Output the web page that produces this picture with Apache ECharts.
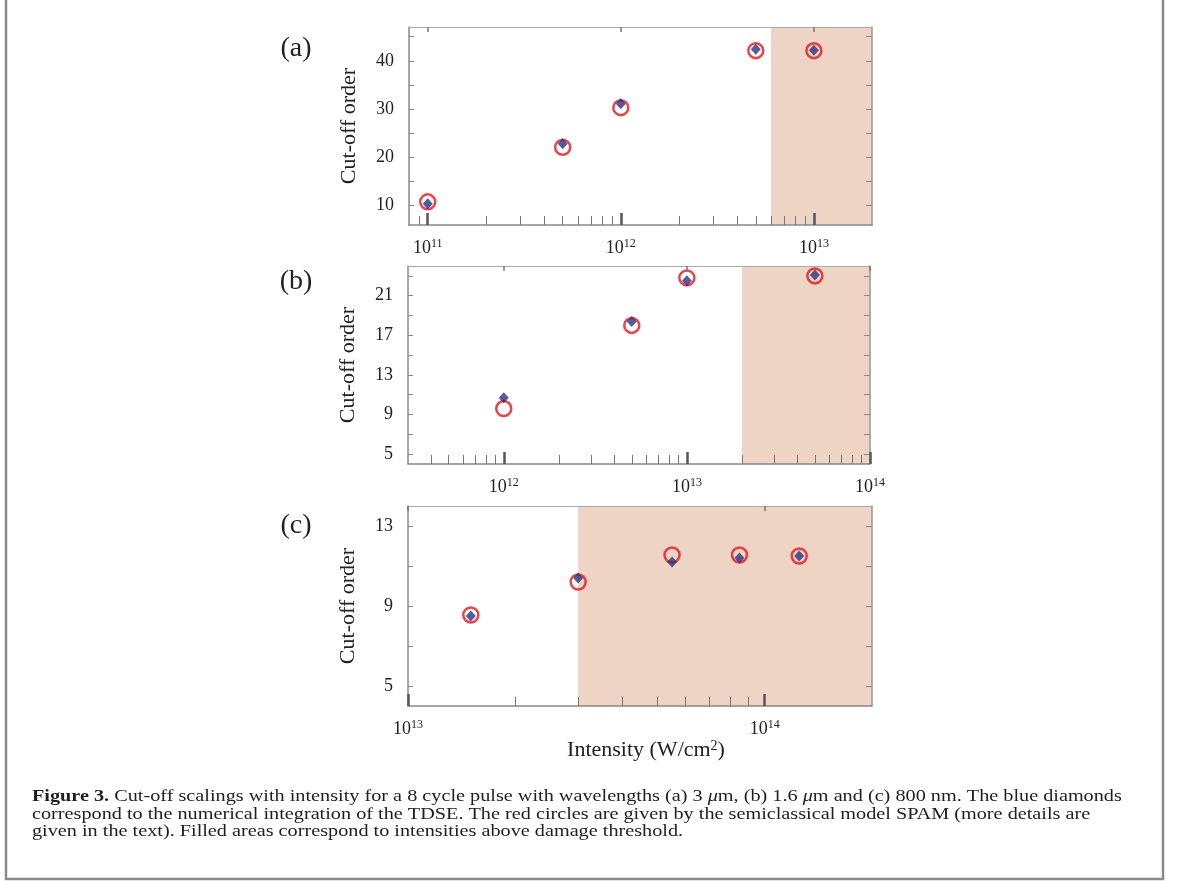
<!DOCTYPE html>
<html>
<head>
<meta charset="utf-8">
<title>Figure 3</title>
<script src="https://cdn.jsdelivr.net/npm/echarts@6/dist/echarts.min.js"></script>
<style>
html, body { margin: 0; padding: 0; background: #fff; }
#chart { width: 1179px; height: 881px; }
</style>
</head>
<body>
<div id="chart"></div>
<script>
// (a) 3 um
var intensityA = [1e11, 5e11, 1e12, 5e12, 1e13];
var tdseA = [10.4, 22.8, 31.1, 42.4, 42.2];
var spamA = [10.8, 22.1, 30.3, 42.1, 42.1];
var damageA = 6e12;
var xRangeA = [8e10, 2e13];
var yRangeA = [6, 47];
var decadesA = [1e11, 1e12, 1e13];
var yTicksA = [10, 15, 20, 25, 30, 35, 40, 45];
var yLabelsA = [10, 20, 30, 40];

// (b) 1.6 um
var intensityB = [1e12, 5e12, 1e13, 5e13];
var tdseB = [10.7, 18.4, 22.5, 23.1];
var spamB = [9.6, 18.0, 22.8, 23.0];
var damageB = 2e13;
var xRangeB = [3e11, 1e14];
var yRangeB = [4, 24];
var decadesB = [1e12, 1e13, 1e14];
var yTicksB = [5, 7, 9, 11, 13, 15, 17, 19, 21, 23];
var yLabelsB = [5, 9, 13, 17, 21];

// (c) 800 nm
var intensityC = [1.5e13, 3e13, 5.5e13, 8.5e13, 1.25e14];
var tdseC = [8.5, 10.4, 11.2, 11.4, 11.5];
var spamC = [8.55, 10.2, 11.55, 11.55, 11.5];
var damageC = 3e13;
var xRangeC = [1e13, 2e14];
var yRangeC = [4, 14];
var decadesC = [1e13, 1e14];
var yTicksC = [5, 7, 9, 11, 13];
var yLabelsC = [5, 9, 13];

var FONT = 'Liberation Serif';
var lg = Math.log10;

// 2..9 x decade, strictly inside the axis range
function minorTicks(range) {
    var out = [];
    var d0 = Math.floor(lg(range[0]));
    var d1 = Math.ceil(lg(range[1]));
    for (var d = d0; d < d1; d++) {
        for (var k = 2; k < 10; k++) {
            var v = k * Math.pow(10, d);
            if (v > range[0] * 1.001 && v < range[1] * 0.999) out.push(lg(v));
        }
    }
    return out;
}

var supRich = {
    b: {fontFamily: FONT, fontSize: 18, lineHeight: 20, color: '#222'},
    s: {fontFamily: FONT, fontSize: 12, lineHeight: 12, color: '#222', verticalAlign: 'top'}
};

var panels = [
    {x: intensityA, tdse: tdseA, spam: spamA, damage: damageA, xr: xRangeA, yr: yRangeA,
     dec: decadesA, yt: yTicksA, yl: yLabelsA, grid: {left: 409, top: 27, width: 463, height: 198}},
    {x: intensityB, tdse: tdseB, spam: spamB, damage: damageB, xr: xRangeB, yr: yRangeB,
     dec: decadesB, yt: yTicksB, yl: yLabelsB, grid: {left: 408, top: 266, width: 462, height: 198}},
    {x: intensityC, tdse: tdseC, spam: spamC, damage: damageC, xr: xRangeC, yr: yRangeC,
     dec: decadesC, yt: yTicksC, yl: yLabelsC, grid: {left: 408, top: 506, width: 464, height: 200}}
];

var grids = [], xAxes = [], yAxes = [], series = [];

panels.forEach(function (p, i) {
    grids.push(p.grid);
    var xmin = lg(p.xr[0]), xmax = lg(p.xr[1]);
    var dec = p.dec.map(lg);
    var base = {type: 'value', gridIndex: i, min: xmin, max: xmax, z: 5, splitLine: {show: false}};

    // bottom: decades + labels
    var xMain = Object.assign({}, base, {
        position: 'bottom',
        axisLine: {show: true, onZero: false, lineStyle: {color: '#888', width: 1.5}},
        axisTick: {show: true, inside: true, length: 12, customValues: dec,
                   lineStyle: {color: '#555', width: 2.5}},
        axisLabel: {customValues: dec, margin: 13, rich: supRich,
                    formatter: function (v) { return '{b|10}{s|' + Math.round(v) + '}'; }}
    });
    if (i === 2) {
        xMain.name = 'Intensity (W/cm{s|2})';
        xMain.nameLocation = 'middle';
        xMain.nameGap = 28;
        xMain.nameTextStyle = {fontFamily: FONT, fontSize: 22, color: '#222', padding: [0, 0, 0, 12],
            rich: {s: {fontFamily: FONT, fontSize: 14, lineHeight: 14, color: '#222', verticalAlign: 'top'}}};
    }
    xAxes.push(xMain);
    // bottom: minor ticks
    xAxes.push(Object.assign({}, base, {
        position: 'bottom',
        axisLine: {show: false, onZero: false},
        axisTick: {show: true, inside: true, length: 9, customValues: minorTicks(p.xr),
                   lineStyle: {color: '#777', width: 1}},
        axisLabel: {show: false}
    }));
    // top
    xAxes.push(Object.assign({}, base, {
        position: 'top',
        axisLine: {show: true, onZero: false, lineStyle: {color: '#aaa', width: 1}},
        axisTick: {show: true, inside: true, length: 5, customValues: dec,
                   lineStyle: {color: '#777', width: 1.5}},
        axisLabel: {show: false}
    }));

    var ybase = {type: 'value', gridIndex: i, min: p.yr[0], max: p.yr[1], z: 5, splitLine: {show: false}};
    yAxes.push(Object.assign({}, ybase, {
        position: 'left',
        name: 'Cut-off order',
        nameLocation: 'middle',
        nameGap: 49,
        nameTextStyle: {fontFamily: FONT, fontSize: 22, color: '#222'},
        axisLine: {show: true, onZero: false, lineStyle: {color: '#888', width: 1.5}},
        axisTick: {show: true, inside: true, length: 5, customValues: p.yt,
                   lineStyle: {color: '#888', width: 1}},
        axisLabel: {customValues: p.yl, margin: 15, fontFamily: FONT, fontSize: 18, color: '#222'}
    }));
    yAxes.push(Object.assign({}, ybase, {
        position: 'right',
        axisLine: {show: true, onZero: false, lineStyle: {color: '#999', width: 1.5}},
        axisTick: {show: true, inside: true, length: 6, customValues: p.yt,
                   lineStyle: {color: '#888', width: 1}},
        axisLabel: {show: false}
    }));

    series.push({
        type: 'scatter', name: 'SPAM', silent: true,
        xAxisIndex: i * 3, yAxisIndex: i * 2, z: 2,
        symbol: 'circle', symbolSize: 15,
        itemStyle: {color: 'rgba(0,0,0,0)', borderColor: '#e2161b', borderWidth: 2.5},
        data: p.x.map(function (v, k) { return [lg(v), p.spam[k]]; }),
        markArea: {
            silent: true,
            itemStyle: {color: '#edd4c4'},
            data: [[{xAxis: lg(p.damage)}, {xAxis: xmax}]]
        }
    });
    series.push({
        type: 'scatter', name: 'TDSE', silent: true,
        xAxisIndex: i * 3, yAxisIndex: i * 2, z: 3,
        symbol: 'diamond', symbolSize: [10, 11],
        itemStyle: {color: '#2b2f85'},
        data: p.x.map(function (v, k) { return [lg(v), p.tdse[k]]; })
    });
});

var captionLines = [
    '{b|Figure 3.} Cut-off scalings with intensity for a 8 cycle pulse with wavelengths (a) 3 {i|\u03bc}m, (b) 1.6 {i|\u03bc}m and (c) 800 nm. The blue diamonds',
    'correspond to the numerical integration of the TDSE. The red circles are given by the semiclassical model SPAM (more details are',
    'given in the text). Filled areas correspond to intensities above damage threshold.'
];

var option = {
    animation: false,
    backgroundColor: '#fff',
    textStyle: {fontFamily: FONT},
    grid: grids,
    xAxis: xAxes,
    yAxis: yAxes,
    series: series,
    graphic: [
        {type: 'text', x: 296, y: 49, style: {text: '(a)', font: '28px "Liberation Serif"', fill: '#222', align: 'center', verticalAlign: 'middle'}},
        {type: 'text', x: 296, y: 282, style: {text: '(b)', font: '28px "Liberation Serif"', fill: '#222', align: 'center', verticalAlign: 'middle'}},
        {type: 'text', x: 296, y: 526, style: {text: '(c)', font: '28px "Liberation Serif"', fill: '#222', align: 'center', verticalAlign: 'middle'}},
        {type: 'text', x: 32, y: 788, scaleX: 1.19, style: {
            text: captionLines.join('\n'),
            font: '17px "Liberation Serif"', fill: '#1e1e1e', lineHeight: 17.5,
            rich: {
                b: {fontWeight: 'bold', fontFamily: FONT, fontSize: 17, lineHeight: 17.5},
                i: {fontStyle: 'italic', fontFamily: FONT, fontSize: 17, lineHeight: 17.5}
            }
        }},
        {type: 'polyline', shape: {points: [[6, 0], [6, 879], [1163, 879], [1163, 0]]},
         style: {stroke: '#8a8a8a', lineWidth: 2.5, fill: null}}
    ]
};

var chart = echarts.init(document.getElementById('chart'), null, {renderer: 'canvas'});
chart.setOption(option);
</script>
</body>
</html>
